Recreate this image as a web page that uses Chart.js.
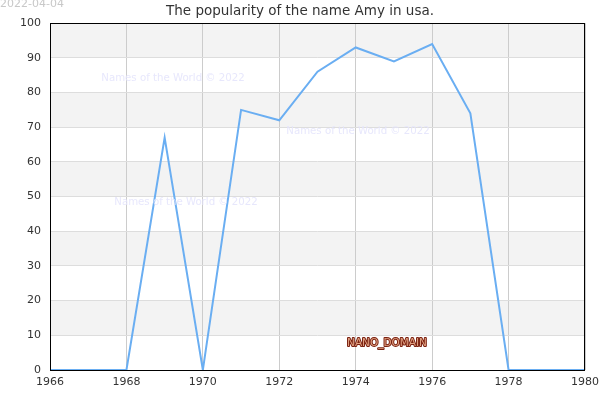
<!DOCTYPE html>
<html>
<head>
<meta charset="utf-8">
<script src="https://cdn.jsdelivr.net/npm/chart.js@4"></script>
<style>
html,body{margin:0;padding:0;background:#fff;}
#wrap{width:600px;height:400px;position:relative;}
</style>
</head>
<body>
<div id="wrap"><canvas id="c" width="600" height="400"></canvas></div>
<script>
const years = [1966,1967,1968,1969,1970,1971,1972,1973,1974,1975,1976,1977,1978,1979,1980];
const popularity = [0,0,0,67,0,75,72,86,93,89,94,74,0,0,0];
const xTicks = [1966,1968,1970,1972,1974,1976,1978,1980];
const yTicks = [0,10,20,30,40,50,60,70,80,90,100];
const titleText = 'The popularity of the name Amy in usa.';
const dateText = '2022-04-04';
const watermark = 'Names of the World © 2022';
const domainText = 'NANO_DOMAIN';

const FONT = "'DejaVu Sans', sans-serif";

const decor = {
  id: 'decor',
  beforeDraw(chart) {
    const {ctx, chartArea: a, scales: {y}} = chart;
    ctx.save();
    ctx.fillStyle = '#fff';
    ctx.fillRect(0,0,chart.width,chart.height);
    ctx.fillStyle = '#f3f3f3';
    for (let i = 1; i < yTicks.length; i += 2) {
      const top = y.getPixelForValue(yTicks[yTicks.length - i]);
      const bot = y.getPixelForValue(yTicks[yTicks.length - i - 1]);
      ctx.fillRect(a.left, top, a.right - a.left, bot - top);
    }
    ctx.restore();
  },
  afterDatasetsDraw(chart) {
    const {ctx, chartArea: a} = chart;
    ctx.save();
    ctx.strokeStyle = '#000';
    ctx.lineWidth = 1;
    ctx.strokeRect(Math.round(a.left)+0.5, Math.round(a.top)+0.5, Math.round(a.right-a.left)-1, Math.round(a.bottom-a.top));
    ctx.font = '10.2px ' + FONT;
    ctx.textAlign = 'center';
    ctx.textBaseline = 'middle';
    ctx.fillStyle = 'rgba(228,228,252,0.9)';
    ctx.fillText(watermark, 173, 78);
    ctx.fillText(watermark, 358, 131);
    ctx.fillText(watermark, 186, 202);
    ctx.font = '10.5px ' + FONT;
    ctx.lineWidth = 2;
    ctx.lineJoin = 'round';
    ctx.strokeStyle = '#7a2010';
    ctx.strokeText(domainText, 387, 343);
    ctx.fillStyle = '#e0a080';
    ctx.fillText(domainText, 387, 343);
    ctx.font = '11px ' + FONT;
    ctx.textAlign = 'left';
    ctx.fillStyle = '#c8c8c8';
    ctx.fillText(dateText, 0, 4);
    ctx.restore();
  }
};

new Chart(document.getElementById('c'), {
  type: 'line',
  data: {
    datasets: [{
      data: years.map((yr, i) => ({x: yr, y: popularity[i]})),
      borderColor: '#6aaef2',
      borderWidth: 2,
      pointRadius: 0,
      tension: 0,
      fill: false
    }]
  },
  options: {
    responsive: false,
    animation: false,
    devicePixelRatio: 1,
    layout: {padding: {left: 15, right: 15, top: 0, bottom: 0}},
    plugins: {
      legend: {display: false},
      tooltip: {enabled: false},
      title: {
        display: true,
        text: titleText,
        color: '#333',
        font: {family: FONT, size: 13.5, weight: 'normal'},
        padding: {top: 3, bottom: 4}
      }
    },
    scales: {
      x: {
        type: 'linear',
        min: 1966, max: 1980,
        afterBuildTicks(s) { s.ticks = xTicks.map(v => ({value: v})); },
        afterFit(s) { s.height = 30; s.paddingRight = 0; s.paddingLeft = 0; },
        grid: {color: '#cccccc', lineWidth: 1, drawTicks: false},
        border: {display: false},
        ticks: {color: '#333', font: {family: FONT, size: 11}, padding: 6, maxRotation: 0, callback: v => String(v)}
      },
      y: {
        min: 0, max: 100,
        afterBuildTicks(s) { s.ticks = yTicks.map(v => ({value: v})); },
        afterFit(s) { s.width = 35; s.paddingTop = 0; s.paddingBottom = 0; },
        grid: {color: '#dddddd', lineWidth: 1, drawTicks: false},
        border: {display: false},
        ticks: {color: '#333', font: {family: FONT, size: 11}, padding: 9}
      }
    }
  },
  plugins: [decor]
});
</script>
</body>
</html>
